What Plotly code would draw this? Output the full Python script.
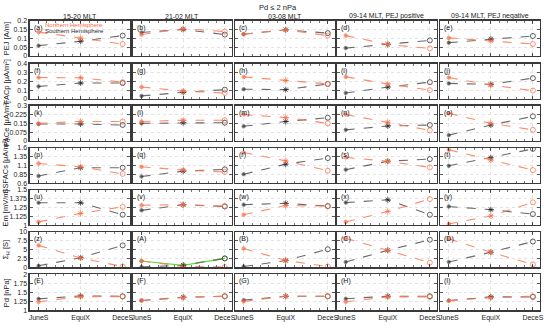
import plotly.graph_objects as go

W, H = 550, 326

seasons = ["JuneS", "EquiX", "DeceS"]
col_titles = ["15-20 MLT", "21-02 MLT", "03-08 MLT",
              "09-14 MLT, PEJ positive", "09-14 MLT, PEJ negative"]
row_titles = ["PEJ [A/m]", "FACp [μA/m²]", "FACe [μA/m²]", "SSFACs [μA/m²]",
              "Em [mV/m]", "Σ<sub>H</sub> [S]", "Pd [nPa]"]
y_ranges = [[0, 0.2], [0, 0.4], [0, 0.3], [0.6, 1.6], [1, 1.5], [0, 10], [1, 2]]
y_ticks = [[0, 0.05, 0.1, 0.15, 0.2],
           [0, 0.1, 0.2, 0.3, 0.4],
           [0, 0.075, 0.15, 0.225, 0.3],
           [0.6, 0.85, 1.1, 1.35, 1.6],
           [1, 1.125, 1.25, 1.375, 1.5],
           [0, 2.5, 5, 7.5, 10],
           [1, 1.25, 1.5, 1.75, 2]]
y_ticktext = [["0", "0.05", "0.1", "0.15", "0.2"],
              ["0", "0.1", "0.2", "0.3", "0.4"],
              ["0", "0.075", "0.15", "0.225", "0.3"],
              ["0.6", "0.85", "1.1", "1.35", "1.6"],
              ["1", "1.125", "1.25", "1.375", "1.5"],
              ["0", "2.5", "5", "7.5", "10"],
              ["1", "1.25", "1.5", "1.75", "2"]]

# values as [column][season] for each quantity
north_pej = [[0.135, 0.100, 0.067], [0.121, 0.154, 0.138], [0.123, 0.148, 0.115],
             [0.115, 0.065, 0.042], [0.102, 0.085, 0.067]]
south_pej = [[0.058, 0.083, 0.115], [0.133, 0.150, 0.121], [0.123, 0.148, 0.129],
             [0.044, 0.065, 0.088], [0.075, 0.096, 0.113]]
north_facp = [[0.243, 0.240, 0.190], [0.135, 0.090, 0.067], [0.250, 0.210, 0.170],
              [0.250, 0.170, 0.100], [0.243, 0.157, 0.094]]
south_facp = [[0.142, 0.180, 0.180], [0.034, 0.075, 0.105], [0.110, 0.105, 0.170],
              [0.067, 0.135, 0.190], [0.176, 0.165, 0.236]]
north_face = [[0.150, 0.166, 0.166], [0.166, 0.177, 0.177], [0.225, 0.200, 0.150],
              [0.225, 0.160, 0.090], [0.236, 0.150, 0.095]]
south_face = [[0.145, 0.145, 0.136], [0.150, 0.156, 0.156], [0.125, 0.166, 0.198],
              [0.095, 0.128, 0.136], [0.050, 0.136, 0.210]]
north_ssfacs = [[1.155, 1.063, 0.860], [1.063, 0.970, 0.915], [1.470, 1.230, 0.950],
                [1.330, 1.220, 1.045], [1.545, 1.250, 0.970]]
south_ssfacs = [[0.800, 1.035, 1.035], [0.785, 0.940, 0.990], [0.850, 1.137, 1.310],
                [0.980, 1.220, 1.280], [1.090, 1.320, 1.570]]
north_em = [[1.046, 1.167, 1.260], [1.282, 1.290, 1.270], [1.148, 1.278, 1.270],
            [1.046, 1.194, 1.370], [1.018, 1.130, 1.324]]
south_em = [[1.318, 1.318, 1.148], [1.210, 1.290, 1.265], [1.290, 1.310, 1.270],
            [1.320, 1.360, 1.148], [1.264, 1.220, 1.157]]
north_sigh = [[6.2, 2.6, 0.2], [1.76, 0.2, 0.05], [5.3, 1.94, 0.2],
              [8.2, 4.8, 1.3], [8.05, 4.25, 0.83]]
south_sigh = [[0.4, 2.7, 6.2], [0.05, 0.55, 2.5], [0.2, 1.9, 5.1],
              [1.5, 4.8, 7.8], [1.5, 4.25, 7.3]]
north_pd = [[1.234, 1.378, 1.378], [1.270, 1.350, 1.387], [1.243, 1.387, 1.387],
            [1.234, 1.370, 1.370], [1.260, 1.350, 1.387]]
south_pd = [[1.315, 1.396, 1.387], [1.270, 1.360, 1.387], [1.280, 1.387, 1.387],
            [1.320, 1.387, 1.387], [1.270, 1.370, 1.370]]
# extra green curve in panel (A)
green_sigh_A = [1.76, 0.55, 2.5]

north_rows = [north_pej, north_facp, north_face, north_ssfacs, north_em, north_sigh, north_pd]
south_rows = [south_pej, south_facp, south_face, south_ssfacs, south_em, south_sigh, south_pd]

panel_letters = list("abcdefghijklmnopqrstuvwxyzABCDEFGHI")

# layout geometry (pixels)
col_x = [(29, 130), (133, 233), (236, 337), (339, 440), (443, 544)]
row_y = [(17, 53), (61, 97), (104, 140), (147, 183), (190, 226), (233, 269), (276, 313)]

N_COL = "rgb(255,105,65)"
N_LINE = "rgba(255,125,90,0.9)"
S_COL = "rgb(30,30,30)"
S_LINE = "rgba(90,90,90,0.9)"
FONT = "Liberation Sans"

xs = list(range(len(seasons)))
symbols = ["circle", "asterisk-open", "circle-open"]
sizes = [3.5, 5, 5]

fig = go.Figure()
layout = {}
annotations = []

for r in range(7):
    for c in range(5):
        n = r * 5 + c + 1
        sx = "" if n == 1 else str(n)
        x0, x1 = col_x[c]
        y0, y1 = row_y[r]
        layout["xaxis" + sx] = dict(
            domain=[x0 / W, x1 / W], anchor="y" + sx,
            range=[-0.21, 2.17], tickvals=xs, ticktext=seasons,
            showticklabels=(r == 6), ticks="inside", ticklen=3,
            tickcolor="#333", tickwidth=0.8,
            minor=dict(ticks="inside", tick0=0, dtick=0.2, ticklen=2,
                       tickcolor="#555", showgrid=False),
            showline=True, linecolor="#3a3a3a", linewidth=1.3, mirror="allticks",
            showgrid=True, gridcolor="#dcdcdc", griddash="dot", gridwidth=0.8,
            zeroline=False, fixedrange=True,
            tickfont=dict(size=7, family=FONT, color="#222"),
        )
        layout["yaxis" + sx] = dict(
            domain=[1 - y1 / H, 1 - y0 / H], anchor="x" + sx,
            range=y_ranges[r], tickvals=y_ticks[r], ticktext=y_ticktext[r],
            showticklabels=(c == 0), ticks="inside", ticklen=3,
            tickcolor="#333", tickwidth=0.8,
            showline=True, linecolor="#3a3a3a", linewidth=1.3, mirror="allticks",
            showgrid=True, gridcolor="#dcdcdc", griddash="dot", gridwidth=0.8,
            zeroline=False, fixedrange=True,
            tickfont=dict(size=7, family=FONT, color="#222"),
        )
        xa, ya = "x" + sx, "y" + sx
        if r == 5 and c == 1:
            fig.add_trace(go.Scatter(
                x=xs, y=green_sigh_A, xaxis=xa, yaxis=ya, mode="lines+markers",
                line=dict(color="rgb(90,220,60)", width=1.2),
                marker=dict(symbol=symbols, size=sizes, color="rgb(60,190,40)",
                            line=dict(color="rgb(60,190,40)", width=1)),
                showlegend=False, hoverinfo="skip"))
        fig.add_trace(go.Scatter(
            x=xs, y=south_rows[r][c], xaxis=xa, yaxis=ya, mode="lines+markers",
            line=dict(color=S_LINE, width=1.1, dash="dash"),
            marker=dict(symbol=symbols, size=sizes, color=S_COL,
                        line=dict(color=S_LINE, width=1)),
            showlegend=False, hoverinfo="skip"))
        fig.add_trace(go.Scatter(
            x=xs, y=north_rows[r][c], xaxis=xa, yaxis=ya, mode="lines+markers",
            line=dict(color=N_LINE, width=1.1, dash="dash"),
            marker=dict(symbol=symbols, size=sizes, color=N_COL,
                        line=dict(color=N_COL, width=1)),
            showlegend=False, hoverinfo="skip"))
        annotations.append(dict(
            text="(" + panel_letters[n - 1] + ")", x=(x0 + 2) / W, y=1 - (y0 + 1) / H,
            xref="paper", yref="paper", xanchor="left", yanchor="top",
            showarrow=False, font=dict(size=7, family=FONT, color="#111")))

# row titles (y-axis labels)
for r in range(7):
    y0, y1 = row_y[r]
    annotations.append(dict(
        text=row_titles[r], x=5 / W, y=1 - (y0 + y1) / 2 / H, xref="paper", yref="paper",
        xanchor="center", yanchor="middle", textangle=-90, showarrow=False,
        font=dict(size=7.5, family=FONT, color="#222")))

# column titles
for c in range(5):
    x0, x1 = col_x[c]
    annotations.append(dict(
        text=col_titles[c], x=(x0 + x1) / 2 / W, y=1 - 12.5 / H, xref="paper", yref="paper",
        xanchor="center", yanchor="middle", showarrow=False,
        font=dict(size=7, family=FONT, color="#222")))

annotations.append(dict(
    text="Pd ≤ 2 nPa", x=280 / W, y=1 - 4 / H, xref="paper", yref="paper",
    xanchor="center", yanchor="middle", showarrow=False,
    font=dict(size=7.5, family=FONT, color="#222")))

# in-panel legend text of panel (a)
annotations.append(dict(
    text="Northern Hemisphere", x=74 / W, y=1 - 21 / H, xref="paper", yref="paper",
    xanchor="center", yanchor="middle", showarrow=False,
    font=dict(size=6, family=FONT, color=N_COL)))
annotations.append(dict(
    text="Southern Hemisphere", x=74 / W, y=1 - 27.5 / H, xref="paper", yref="paper",
    xanchor="center", yanchor="middle", showarrow=False,
    font=dict(size=6, family=FONT, color=S_COL)))

fig.update_layout(
    width=W, height=H, margin=dict(l=0, r=0, t=0, b=0),
    paper_bgcolor="white", plot_bgcolor="white",
    annotations=annotations, showlegend=False,
    font=dict(family=FONT, size=7.5, color="#222"),
    **layout)

fig.write_html("out.html", config={"displayModeBar": False, "staticPlot": True},
               post_script="document.body.style.margin='0';")
